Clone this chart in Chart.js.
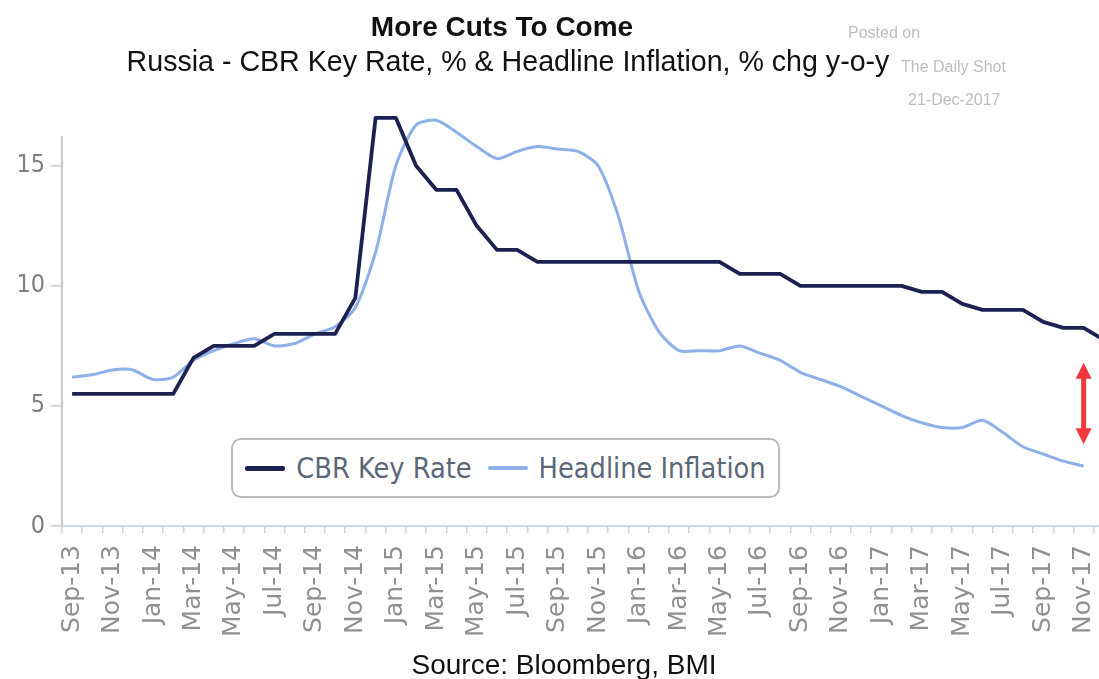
<!DOCTYPE html>
<html>
<head>
<meta charset="utf-8">
<script src="https://cdn.jsdelivr.net/npm/chart.js@4.4.1/dist/chart.umd.min.js"></script>
<style>
html,body{margin:0;padding:0;background:#fff;width:1099px;height:679px;overflow:hidden;}
#wrap{position:relative;width:1099px;height:679px;overflow:hidden;font-family:"Liberation Sans",Arial,sans-serif;}
#chart{position:absolute;left:0;top:0;}
.t{position:absolute;white-space:nowrap;line-height:1;}
#title{left:502px;top:13px;transform:translateX(-50%);font-weight:bold;font-size:28px;color:#111;}
#subtitle{left:508px;top:47px;transform:translateX(-50%);font-size:28.6px;color:#111;}
#source{left:564px;top:651px;transform:translateX(-50%);font-size:28px;color:#111;}
.wm{font-size:16px;color:#bdbdbd;}
#legend{position:absolute;left:231px;top:438px;width:545px;height:56px;border:2px solid #b9b9b9;border-radius:10px;background:#fff;
  display:flex;align-items:center;justify-content:center;gap:16px;font-family:"DejaVu Sans Condensed","DejaVu Sans",sans-serif;font-size:28.6px;color:#5b6778;}
.li{display:flex;align-items:center;gap:11px;}
.sw{display:inline-block;width:40px;height:4px;border-radius:2px;}
</style>
</head>
<body>
<div id="wrap">
  <canvas id="chart" width="1114" height="679"></canvas>
  <div class="t" id="title">More Cuts To Come</div>
  <div class="t" id="subtitle">Russia - CBR Key Rate, % &amp; Headline Inflation, % chg y-o-y</div>
  <div class="t wm" style="left:848px;top:25px;">Posted on</div>
  <div class="t wm" style="left:901px;top:59px;">The Daily Shot</div>
  <div class="t wm" style="left:908px;top:92px;">21-Dec-2017</div>
  <div id="legend"></div>
  <div class="t" id="source">Source: Bloomberg, BMI</div>
</div>
<script>
// ---- data (monthly, Sep-13 .. Dec-17) ----
const months = ["Sep-13","Oct-13","Nov-13","Dec-13","Jan-14","Feb-14","Mar-14","Apr-14","May-14","Jun-14",
  "Jul-14","Aug-14","Sep-14","Oct-14","Nov-14","Dec-14","Jan-15","Feb-15","Mar-15","Apr-15",
  "May-15","Jun-15","Jul-15","Aug-15","Sep-15","Oct-15","Nov-15","Dec-15","Jan-16","Feb-16",
  "Mar-16","Apr-16","May-16","Jun-16","Jul-16","Aug-16","Sep-16","Oct-16","Nov-16","Dec-16",
  "Jan-17","Feb-17","Mar-17","Apr-17","May-17","Jun-17","Jul-17","Aug-17","Sep-17","Oct-17",
  "Nov-17","Dec-17"];
const cbrKeyRate = [5.5,5.5,5.5,5.5,5.5,5.5,7.0,7.5,7.5,7.5,
  8.0,8.0,8.0,8.0,9.5,17,17,15,14,14,
  12.5,11.5,11.5,11,11,11,11,11,11,11,
  11,11,11,10.5,10.5,10.5,10,10,10,10,
  10,10,9.75,9.75,9.25,9,9,9,8.5,8.25,
  8.25,7.75];
const headlineInflation = [6.2,6.3,6.5,6.5,6.1,6.2,6.9,7.3,7.6,7.8,
  7.5,7.6,8.0,8.3,9.1,11.4,15.0,16.7,16.9,16.4,
  15.8,15.3,15.6,15.8,15.7,15.6,15.0,12.9,9.8,8.1,
  7.3,7.3,7.3,7.5,7.2,6.9,6.4,6.1,5.8,5.4,
  5.0,4.6,4.3,4.1,4.1,4.4,3.9,3.3,3.0,2.7,
  2.5];
const yTicks = [0,5,10,15];
const gapArrow = {month: "Nov-17", from: 6.8, to: 3.4};

const seriesNames = ["CBR Key Rate","Headline Inflation"];
const seriesColors = ["#1c2152","#8db0e8"];

const arrowPlugin = {
  id: 'gapArrow',
  afterDatasetsDraw(chart){
    const {ctx, scales:{x,y}} = chart;
    const px = x.getPixelForValue(months.indexOf(gapArrow.month));
    const y1 = y.getPixelForValue(gapArrow.from), y2 = y.getPixelForValue(gapArrow.to);
    const hh = 16, hw = 8;
    ctx.save();
    ctx.fillStyle = '#f0393b'; ctx.strokeStyle = '#f0393b';
    ctx.lineWidth = 5;
    ctx.beginPath(); ctx.moveTo(px, y1 + hh - 2); ctx.lineTo(px, y2 - hh + 2); ctx.stroke();
    ctx.beginPath(); ctx.moveTo(px, y1); ctx.lineTo(px - hw, y1 + hh); ctx.lineTo(px + hw, y1 + hh); ctx.closePath(); ctx.fill();
    ctx.beginPath(); ctx.moveTo(px, y2); ctx.lineTo(px - hw, y2 - hh); ctx.lineTo(px + hw, y2 - hh); ctx.closePath(); ctx.fill();
    ctx.restore();
  }
};

const chart = new Chart(document.getElementById('chart'), {
  type: 'line',
  data: {
    labels: months,
    datasets: [
      {label: seriesNames[0], data: cbrKeyRate, borderColor: seriesColors[0], backgroundColor: seriesColors[0],
       borderWidth: 3.8, pointRadius: 0, tension: 0, clip: false, borderJoinStyle: 'round'},
      {label: seriesNames[1], data: headlineInflation, borderColor: seriesColors[1], backgroundColor: seriesColors[1],
       borderWidth: 3, pointRadius: 0, tension: 0.25, clip: false, borderJoinStyle: 'round'}
    ]
  },
  options: {
    responsive: false,
    animation: false,
    layout: {padding: {top: 137, right: 0, left: 0, bottom: 0}},
    plugins: {legend: {display: false}, tooltip: {enabled: false}},
    scales: {
      x: {
        type: 'category',
        offset: true,
        grid: {offset: true, drawOnChartArea: false, tickLength: 7, tickColor: '#c9d4e2', lineWidth: 1.5},
        border: {color: '#cdd8e6', width: 2},
        ticks: {
          autoSkip: false, maxRotation: 90, minRotation: 90, padding: 12,
          color: '#909090', font: {family: '"DejaVu Sans","Open Sans",sans-serif', size: 25},
          callback: function(v, i){ return i % 2 === 0 ? this.getLabelForValue(v) : ''; }
        },
        afterFit(s){ s.height = 153; s.paddingLeft = 0; s.paddingRight = 0; }
      },
      y: {
        min: 0, max: 16.2,
        afterBuildTicks(s){ s.ticks = yTicks.map(v => ({value: v})); },
        grid: {drawOnChartArea: false, tickLength: 11, tickColor: '#cccccc', lineWidth: 1.5},
        border: {color: '#c9c9c9', width: 2},
        ticks: {color: '#808080', padding: 6, font: {family: '"Liberation Sans Narrow","DejaVu Sans Condensed",sans-serif', size: 25}},
        afterFit(s){ s.width = 62; }
      }
    }
  },
  plugins: [arrowPlugin]
});

// HTML legend built from the datasets
const leg = document.getElementById('legend');
chart.data.datasets.forEach((ds, i) => {
  const it = document.createElement('div'); it.className = 'li';
  const sw = document.createElement('span'); sw.className = 'sw'; sw.style.background = ds.borderColor;
  sw.style.height = i === 0 ? '5px' : '4px';
  const tx = document.createElement('span'); tx.textContent = ds.label;
  it.appendChild(sw); it.appendChild(tx); leg.appendChild(it);
});
</script>
</body>
</html>
